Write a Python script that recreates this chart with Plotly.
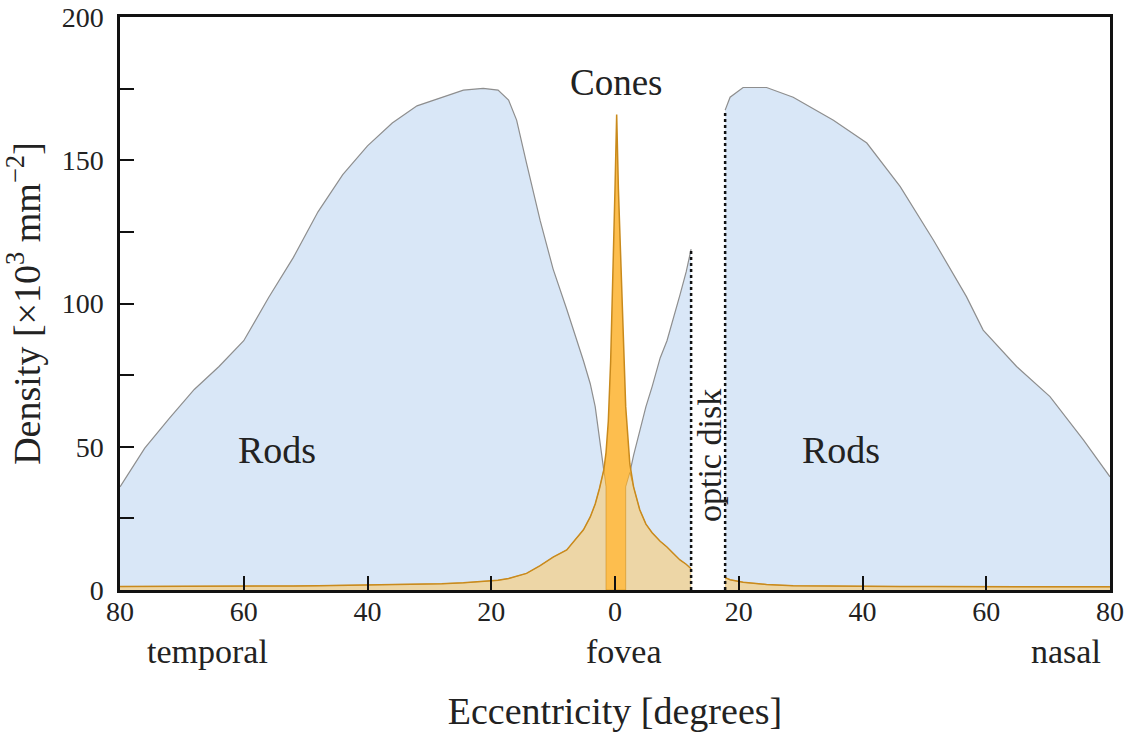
import numpy as np
import plotly.graph_objects as go

# ---------------- data ----------------
# Segment between temporal periphery and the optic disk (eccentricity, temporal negative)
x_left = [-80, -76, -72, -68, -64, -60, -56, -52, -48, -44, -40, -36, -32, -28,
          -24.5, -21.3, -18.9, -17.2, -15.9, -14.3, -12.1, -10, -7.8, -5.1, -4.0,
          -3.2, -2.5, -2.1, -1.8, -1.45, -1.45, -1.08, -0.7, -0.27, 0.0, 0.27, 0.55,
          0.97, 1.4, 1.73, 1.73, 2.4, 3, 4, 5, 6, 7.3, 8.4, 9.5, 10.5, 11.5, 12.3]
rods_left = [36, 49.5, 60, 70, 78, 87, 102, 116, 132, 145, 155, 163, 169, 172,
             174.5, 175.1, 174.5, 171, 164, 149, 129, 112, 98, 80, 72,
             64, 53, 46, 42, 36, 0, 0, 0, 0, 0, 0, 0,
             0, 0, 0, 36, 41, 47, 56, 64, 71, 81, 87, 95, 103, 111, 119]
cones_left = [1.2, 1.2, 1.2, 1.2, 1.2, 1.3, 1.3, 1.4, 1.5, 1.6, 1.7, 1.9, 2.0, 2.2,
              2.5, 2.9, 3.4, 4.0, 4.7, 5.8, 8.5, 11.5, 14.0, 21, 25.5,
              30, 35.5, 39.5, 42, 48, 48, 59, 80, 113, 140, 166, 140,
              113, 80, 64, 64, 44, 36, 28, 23, 20, 17, 15, 12.5, 10.5, 9, 7.4]

# Segment on the nasal side of the optic disk
x_right = [17.8, 18.6, 20.7, 24.5, 28.8, 35.3, 40.7, 46.1, 51.5, 56.8, 59.5,
           64.9, 70.3, 75.7, 80]
rods_right = [167.5, 172, 175.4, 175.4, 172, 164, 156, 140.8, 122, 102.4, 90.7,
              78, 67.5, 52.4, 39.5]
cones_right = [4.3, 3.6, 2.7, 1.9, 1.5, 1.3, 1.2, 1.2, 1.2, 1.1, 1.1,
               1.1, 1.1, 1.1, 1.1]

# optic disk edges and the rod density at those edges
disk_x = [12.3, 17.8]
disk_top = [119, 167.5]

x_tickvals = [-80, -60, -40, -20, 0, 20, 40, 60, 80]
x_ticktext = ["80", "60", "40", "20", "0", "20", "40", "60", "80"]
y_tickvals = [0, 25, 50, 75, 100, 125, 150, 175, 200]
y_ticktext = ["0", "", "50", "", "100", "", "150", "", "200"]

# ---------------- styling ----------------
FONT = "Liberation Serif"
TXT = "#222222"
BLUE = "#D9E7F7"
ROD_LINE = "#8E8E8E"
CONE_BRIGHT = "#FDBE4E"
CONE_TAN = "#EDD6A6"
CONE_LINE = "#C98A1C"

fig = go.Figure()

segments = [(x_left, rods_left, cones_left), (x_right, rods_right, cones_right)]

# rods fill + outline
for xs, rs, cs in segments:
    fig.add_trace(go.Scatter(x=xs, y=rs, mode="lines", fill="tozeroy",
                             fillcolor=BLUE, line=dict(color=ROD_LINE, width=1.2),
                             hoverinfo="skip"))
# cones fill (where no rods underneath -> bright)
for xs, rs, cs in segments:
    fig.add_trace(go.Scatter(x=xs, y=cs, mode="lines", fill="tozeroy",
                             fillcolor=CONE_BRIGHT, line=dict(width=0),
                             hoverinfo="skip"))
# overlap of cones with rods -> tan
for xs, rs, cs in segments:
    ov = np.minimum(np.array(rs, dtype=float), np.array(cs, dtype=float))
    fig.add_trace(go.Scatter(x=xs, y=ov, mode="lines", fill="tozeroy",
                             fillcolor=CONE_TAN,
                             line=dict(color="rgba(201,138,28,0.55)", width=1),
                             hoverinfo="skip"))
# cones outline
for xs, rs, cs in segments:
    fig.add_trace(go.Scatter(x=xs, y=cs, mode="lines",
                             line=dict(color=CONE_LINE, width=1.5),
                             hoverinfo="skip"))

# optic disk dotted boundaries
dx, dy = [], []
for xv, tv in zip(disk_x, disk_top):
    dx += [xv, xv, None]
    dy += [0, tv, None]
fig.add_trace(go.Scatter(x=dx, y=dy, mode="lines",
                         line=dict(color="#111111", width=2.5, dash="dot"),
                         hoverinfo="skip"))

# ---------------- annotations ----------------
def ann(text, x, y, size, angle=0, yref="y"):
    fig.add_annotation(x=x, y=y, xref="x", yref=yref, text=text, showarrow=False,
                       textangle=angle, xanchor="center", yanchor="middle",
                       font=dict(family=FONT, size=size, color=TXT))

ann("Cones", 0.3, 177, 37)
ann("Rods", -54.6, 48.9, 38)
ann("Rods", 36.6, 48.9, 38)
ann("optic disk", 15.3, 47, 34, angle=-90)
ann("temporal", -65.8, -0.108, 34, yref="paper")
ann("fovea", 1.4, -0.108, 34, yref="paper")
ann("nasal", 72.9, -0.108, 34, yref="paper")

fig.update_layout(
    width=1129, height=732,
    margin=dict(l=120, r=19, t=17, b=142),
    paper_bgcolor="white", plot_bgcolor="white",
    showlegend=False, hovermode=False,
    font=dict(family=FONT, color=TXT),
    xaxis=dict(range=[-80, 80], tickvals=x_tickvals, ticktext=x_ticktext,
               ticks="inside", ticklen=14, tickwidth=2, tickcolor="#111",
               showline=True, linecolor="#111", linewidth=2.5, mirror=True,
               showgrid=False, zeroline=False, automargin=False,
               tickfont=dict(family=FONT, size=28, color=TXT),
               ticklabelstandoff=-5,
               title=dict(text="Eccentricity [degrees]", standoff=74,
                          font=dict(family=FONT, size=38, color=TXT))),
    yaxis=dict(range=[0, 200], tickvals=y_tickvals, ticktext=y_ticktext,
               ticks="inside", ticklen=14, tickwidth=2, tickcolor="#111",
               showline=True, linecolor="#111", linewidth=2.5, mirror=True,
               showgrid=False, zeroline=False, automargin=False,
               tickfont=dict(family=FONT, size=28, color=TXT),
               ticklabelstandoff=8,
               title=dict(text="Density [×10<sup>3</sup> mm<sup>−2</sup>]", standoff=12,
                          font=dict(family=FONT, size=38, color=TXT))),
)

fig.write_html("out.html")
